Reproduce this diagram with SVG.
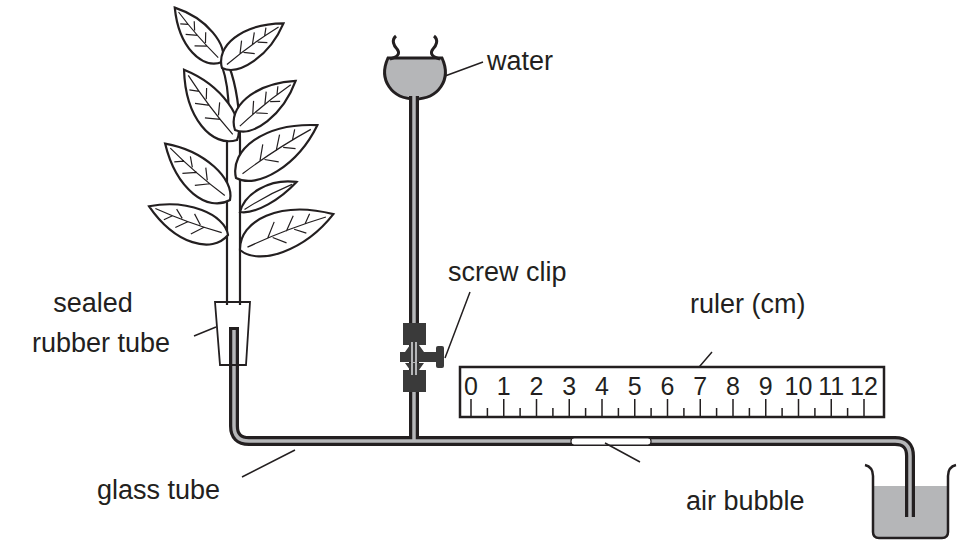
<svg xmlns="http://www.w3.org/2000/svg" width="964" height="544" viewBox="0 0 964 544">
<style>
text{font-family:"Liberation Sans",Arial,sans-serif;font-size:27px;fill:#231f20}
.ln{stroke:#231f20;stroke-width:1.5;fill:none}
.leaf{fill:#fff;stroke:#231f20;stroke-width:2.2;vector-effect:non-scaling-stroke}
.vein{fill:none;stroke:#231f20;stroke-width:1.2;vector-effect:non-scaling-stroke}
.tb{fill:none;stroke:#231f20;stroke-width:10}
.tg{fill:none;stroke:#b5b6b8;stroke-width:3.5}
.tick{stroke:#231f20;stroke-width:1.5}
.num{font-size:25px}
</style>
<defs>
<g id="leaf">
<path class="leaf" d="M0,0 C10,-28 55,-32 100,0 C60,24 12,22 0,0Z"/>
<path class="vein" d="M8,0 Q50,-3 92,0 M30,-1 L42,-14 M50,-1 L62,-13 M70,-1 L78,-9 M35,0 L46,10 M58,0 L68,8"/>
</g>
<g id="leafn">
<path class="leaf" d="M0,0 C20,-22 65,-25 100,0 C65,12 20,15 0,0Z"/>
<path class="vein" d="M8,0 Q50,-4 92,0"/>
</g>
</defs>
<g id="plant">
<path d="M222,66 Q232,95 227,140 L227,305 M229,66 Q240,95 240,140 L240,305" stroke="#231f20" stroke-width="2.2" fill="none"/>
<use href="#leaf" transform="translate(222,62) rotate(-131) scale(0.72)"/>
<use href="#leaf" transform="translate(222,68) rotate(-36) scale(0.76)"/>
<use href="#leaf" transform="translate(237,140) rotate(-127) scale(0.88)"/>
<use href="#leaf" transform="translate(235,130) rotate(-39) scale(0.78)"/>
<use href="#leaf" transform="translate(230,200) rotate(-139) scale(0.86)"/>
<use href="#leaf" transform="translate(236,178) rotate(-33) scale(0.97)"/>
<use href="#leafn" transform="translate(240,212) rotate(-28) scale(0.64)"/>
<use href="#leaf" transform="translate(228,235) rotate(-160) scale(0.84)"/>
<use href="#leaf" transform="translate(240,250) rotate(-21) scale(1.0)"/>
</g>
<g id="reservoir">
<path d="M388,58 L442,58 C452,80 438,99 415,99 C392,99 378,80 388,58Z" fill="#b5b6b8" stroke="#231f20" stroke-width="3"/>
<path d="M396,36 C391,40 394,46 397,49 C401,54 397,57 390,59 M434,36 C439,40 436,46 433,49 C429,54 433,57 440,59" stroke="#231f20" stroke-width="3" fill="none"/>
</g>
<g id="connectors">
<path class="tb" d="M234,327 L234,426 Q234,441 249,441 L895,441 Q910,441 910,456 L910,517 M414,96 L414,441"/>
<path class="tg" d="M234,330 L234,426 Q234,441 249,441 L895,441 Q910,441 910,456 L910,517 M414,96 L414,441"/>
<rect x="571" y="438" width="80" height="7" rx="3" fill="#fff" stroke="#231f20" stroke-width="1.2"/>
<path class="ln" d="M445,76 L483,62 M445,358 L470,292 M688,380 L712,352 M194,336 L216,327 M242,477 L295,450 M605,443 L640,462"/>
</g>
<g id="rubber-tube"><path d="M215,302 L250,302 L246,365 L220,365Z" fill="none" stroke="#231f20" stroke-width="1.8"/></g>
<g id="screw-clip" fill="#3a3a3a">
<path d="M403,323 L426,323 L426,345 L419,345 L424,352 L405,352 L410,345 L403,345Z"/>
<path d="M403,392 L426,392 L426,370 L419,370 L424,363 L405,363 L410,370 L403,370Z"/>
<rect x="400" y="352" width="40" height="10"/>
<rect x="436" y="346" width="8" height="22" rx="2"/>
<path d="M412,342 L412,375 M416,342 L416,375" stroke="#b5b6b8" stroke-width="2"/>
</g>
<g id="ruler">
<rect x="460" y="367" width="424" height="50" fill="#fff" stroke="#231f20" stroke-width="2.5"/>
<path class="tick" d="M471,399V417 M503.75,399V417 M536.5,399V417 M569.25,399V417 M602,399V417 M634.75,399V417 M667.5,399V417 M700.25,399V417 M733,399V417 M765.75,399V417 M798.5,399V417 M831.25,399V417 M864,399V417 M487.4,408V417 M520.1,408V417 M552.9,408V417 M585.6,408V417 M618.4,408V417 M651.1,408V417 M683.9,408V417 M716.6,408V417 M749.4,408V417 M782.1,408V417 M814.9,408V417 M847.6,408V417"/>
<g text-anchor="middle">
<text class="num" x="471" y="395">0</text><text class="num" x="503.75" y="395">1</text><text class="num" x="536.5" y="395">2</text><text class="num" x="569.25" y="395">3</text><text class="num" x="602" y="395">4</text><text class="num" x="634.75" y="395">5</text><text class="num" x="667.5" y="395">6</text><text class="num" x="700.25" y="395">7</text><text class="num" x="733" y="395">8</text><text class="num" x="765.75" y="395">9</text><text class="num" x="798.5" y="395">10</text><text class="num" x="831.25" y="395">11</text><text class="num" x="864" y="395">12</text>
</g>
</g>
<g id="beaker">
<path d="M873,486 L948,486 L948,532 Q948,538 942,538 L879,538 Q873,538 873,532Z" fill="#b5b6b8"/>
<path d="M865,465 Q873,467 873,476 L873,532 Q873,538 879,538 L942,538 Q948,538 948,532 L948,476 Q948,467 956,465" fill="none" stroke="#231f20" stroke-width="2.5"/>
<path class="tb" d="M910,480 L910,517"/><path class="tg" d="M910,480 L910,517"/>
</g>
<g id="labels">
<text x="487" y="70">water</text>
<text x="448" y="281">screw clip</text>
<text x="690" y="313">ruler (cm)</text>
<text x="93" y="312" text-anchor="middle">sealed</text>
<text x="101" y="352" text-anchor="middle">rubber tube</text>
<text x="97" y="499">glass tube</text>
<text x="686" y="510">air bubble</text>
</g>
</svg>
